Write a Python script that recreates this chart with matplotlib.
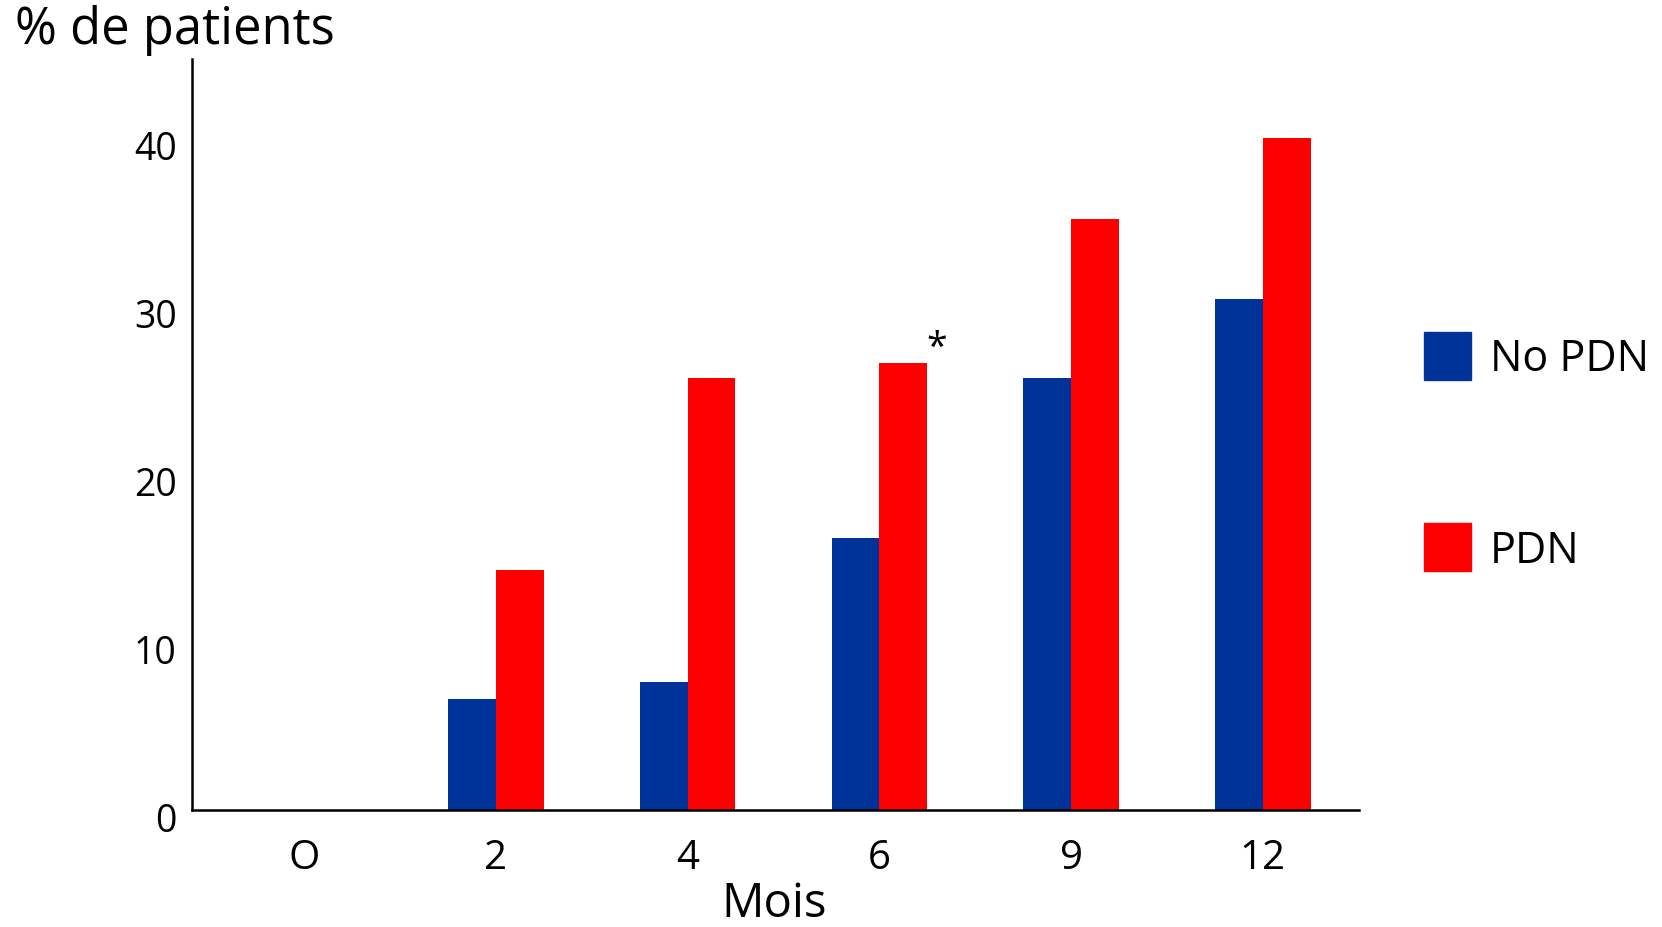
import numpy as np
import matplotlib
matplotlib.use("Agg")
import matplotlib.pyplot as plt
import matplotlib.transforms as mtransforms
from matplotlib.patches import Patch

plt.rcParams['font.family'] = ['Open Sans', 'DejaVu Sans']

# données : % de patients par mois
mois = ["O", "2", "4", "6", "9", "12"]
no_pdn = [0, 6.6, 7.6, 16.2, 25.7, 30.4]
pdn = [0, 14.3, 25.7, 26.6, 35.2, 40.0]
y_ticks = [0, 10, 20, 30, 40]

bleu = "#003399"
rouge = "#ff0000"

fig = plt.figure(figsize=(16.62, 9.28), dpi=100)
ax = fig.add_axes([0.1155, 0.126, 0.702, 0.809])

x = np.arange(len(mois))
w = 0.249
ax.bar(x - w / 2, no_pdn, width=w, color=bleu, linewidth=0)
ax.bar(x + w / 2, pdn, width=w, color=rouge, linewidth=0)

# étoile au-dessus du mois 6
ax.text(3 + 0.30, pdn[3] + 0.9, "*", fontsize=27, ha="center", va="center")

ax.set_xlim(-0.586, 5.5)
ax.set_ylim(0, 44.7)

ax.set_xticks(x)
ax.set_xticklabels(mois)
ax.set_yticks(y_ticks)
ax.tick_params(axis="x", length=0, pad=20, labelsize=29)
ax.tick_params(axis="y", length=0, pad=11, labelsize=27)

# petit décalage vers le bas des valeurs de l'axe y
decal = mtransforms.ScaledTranslation(0, -6 / 100, fig.dpi_scale_trans)
for lab in ax.get_yticklabels():
    lab.set_transform(lab.get_transform() + decal)

for s in ["top", "right"]:
    ax.spines[s].set_visible(False)
for s in ["left", "bottom"]:
    ax.spines[s].set_linewidth(1.8)

fig.text(0.009, 0.953, "% de patients", fontsize=36.5, ha="left", va="baseline")
fig.text(0.4655, 0.012, "Mois", fontsize=34, ha="center", va="baseline")

handles = [Patch(color=bleu, label="No PDN"), Patch(color=rouge, label="PDN")]
fig.legend(handles=handles, loc="center left", bbox_to_anchor=(0.8566, 0.5115),
           frameon=False, fontsize=31, handlelength=1.1, handleheight=1.32,
           handletextpad=0.44, labelspacing=3.3, borderpad=0, borderaxespad=0)

plt.savefig("out.png", dpi=100)
